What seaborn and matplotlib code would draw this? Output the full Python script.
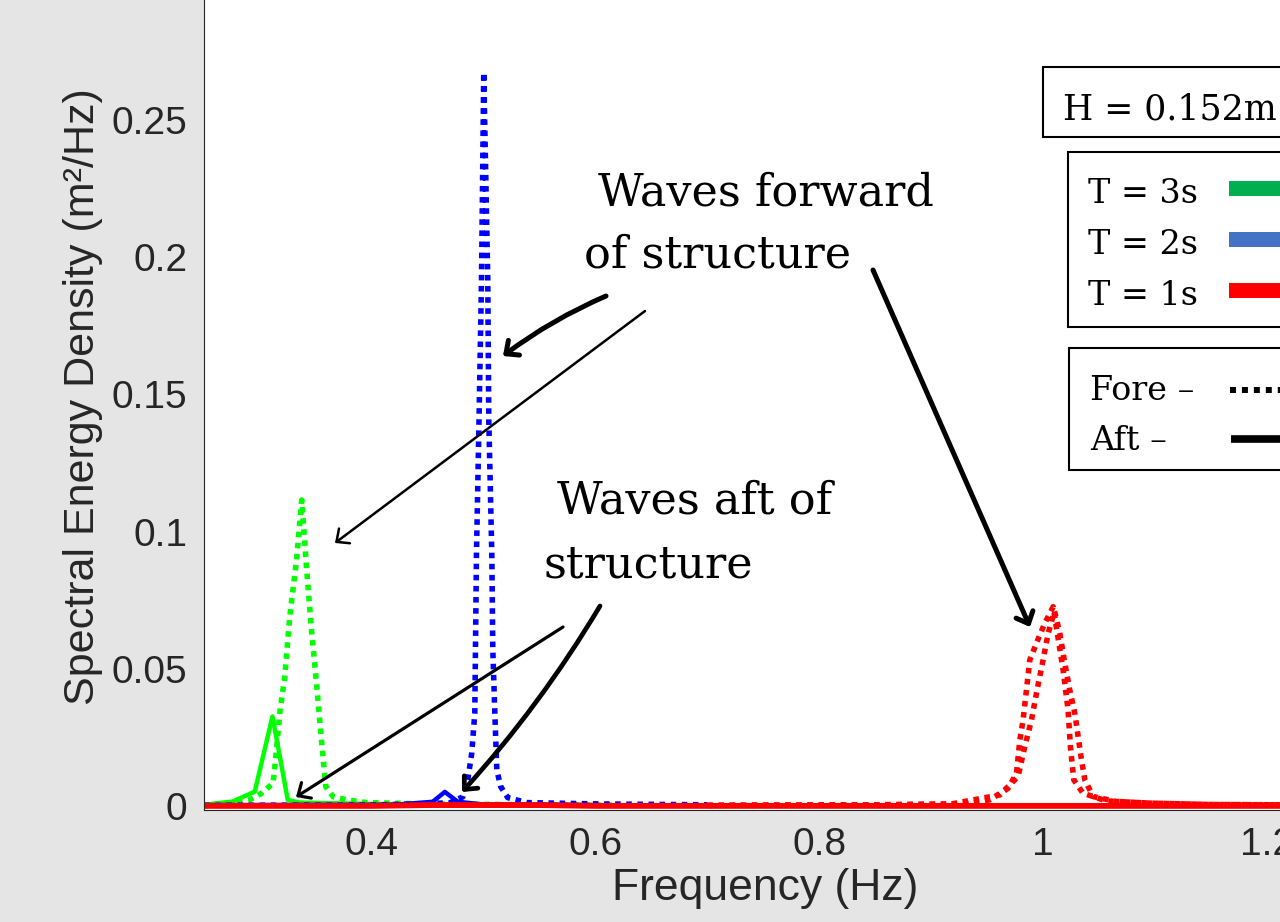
import matplotlib
matplotlib.use("Agg")
import matplotlib.pyplot as plt
from matplotlib.patches import Rectangle
from matplotlib.lines import Line2D
import seaborn as sns

# ---------------- data ----------------
green_fore_f = [0.25, 0.2757, 0.2909, 0.3014, 0.3118, 0.3148, 0.3177, 0.3222, 0.3267, 0.3327,
                0.3374, 0.3416, 0.3461, 0.3506, 0.3550, 0.3589, 0.3654, 0.3774, 0.3952, 0.45, 0.55, 0.62]
green_fore_v = [0.0003, 0.0010, 0.0022, 0.0046, 0.0083, 0.0204, 0.0338, 0.0471, 0.0690, 0.0896,
                0.1115, 0.0872, 0.0641, 0.0447, 0.0240, 0.0070, 0.0034, 0.0022, 0.0012, 0.0007, 0.0004, 0.0003]

green_aft_f = [0.25, 0.2757, 0.2954, 0.3112, 0.3249, 0.3356, 0.398, 0.50, 0.60]
green_aft_v = [0.0004, 0.0016, 0.0052, 0.0326, 0.0022, 0.0012, 0.0007, 0.0004, 0.0003]

blue_fore_f = [0.25, 0.40, 0.4697, 0.4814, 0.4858, 0.4894, 0.4921, 0.4936, 0.4959, 0.4981, 0.5001,
               0.5037, 0.5046, 0.5073, 0.5082, 0.5100, 0.5118, 0.5153, 0.5216, 0.5386, 0.6038, 0.70]
blue_fore_v = [0.0002, 0.0003, 0.0011, 0.0033, 0.0095, 0.0193, 0.0339, 0.0920, 0.1410, 0.1920, 0.2675,
               0.1920, 0.1410, 0.0920, 0.0570, 0.0340, 0.0130, 0.0070, 0.0030, 0.0012, 0.0007, 0.0004]

blue_aft_f = [0.25, 0.42, 0.4545, 0.4653, 0.4769, 0.50, 0.60]
blue_aft_v = [0.0003, 0.0004, 0.0015, 0.0051, 0.0015, 0.0005, 0.0003]

red_fore1_f = [0.70, 0.85, 0.9168, 0.9347, 0.9525, 0.9689, 0.9764, 0.9794, 0.9823, 0.9853, 0.9883, 0.9948,
               1.0017, 1.0092, 1.0136, 1.0181, 1.0225, 1.0246, 1.0276, 1.0359, 1.0569, 1.0956, 1.15, 1.26]
red_fore1_v = [0.0002, 0.0004, 0.0007, 0.0010, 0.0022, 0.0064, 0.0119, 0.0241, 0.0313, 0.0423, 0.0532, 0.0599,
               0.0666, 0.0726, 0.0611, 0.0496, 0.0350, 0.0216, 0.0095, 0.0046, 0.0018, 0.0010, 0.0005, 0.0003]

red_fore2_f = [0.70, 0.85, 0.9168, 0.9615, 0.9778, 0.9838, 0.9898, 0.9948, 0.9996, 1.0047, 1.0104, 1.0151,
               1.0196, 1.0240, 1.0285, 1.0315, 1.0345, 1.0375, 1.0449, 1.0658, 1.0956, 1.15, 1.26]
red_fore2_v = [0.0002, 0.0004, 0.0006, 0.0040, 0.0107, 0.0216, 0.0313, 0.0423, 0.0520, 0.0629, 0.0710, 0.0629,
               0.0520, 0.0423, 0.0338, 0.0253, 0.0168, 0.0095, 0.0034, 0.0016, 0.0010, 0.0005, 0.0003]

red_aft_f = [0.25, 0.40, 0.45, 0.55, 0.60, 1.00, 1.26]
red_aft_v = [0.0000, 0.0000, 0.0003, 0.0003, 0.0000, 0.0000, 0.0000]

x_ticks = [0.4, 0.6, 0.8, 1.0, 1.2]
x_tick_labels = ["0.4", "0.6", "0.8", "1", "1.2"]
y_ticks = [0, 0.05, 0.1, 0.15, 0.2, 0.25]
y_tick_labels = ["0", "0.05", "0.1", "0.15", "0.2", "0.25"]

legend_periods = ["T = 3s", "T = 2s", "T = 1s"]
legend_period_colors = ["#00b050", "#4472c4", "#ff0000"]
legend_styles = ["Fore \u2013", "Aft \u2013"]
height_label = "H = 0.152m"

# ---------------- style ----------------
sns.set_theme(style="white")
plt.rcParams["font.family"] = ["Liberation Sans", "DejaVu Sans"]

W, H = 1280, 922
BG = "#e5e5e5"
TXT = "#262626"
fig = plt.figure(figsize=(W / 100, H / 100), dpi=100, facecolor=BG)
ax = fig.add_axes([204 / W, (H - 810) / H, (1327 - 204) / W, (810 + 17) / H])
ax.set_facecolor("white")

dotted = (0, (1, 1))
LW_DOT = 4.0
LW_SOLID = 3.2

sns.lineplot(x=green_fore_f, y=green_fore_v, ax=ax, color="#00ff00", linestyle=dotted,
             linewidth=LW_DOT, dash_capstyle="butt", estimator=None)
sns.lineplot(x=green_aft_f, y=green_aft_v, ax=ax, color="#00ff00", linewidth=LW_SOLID, estimator=None)
sns.lineplot(x=blue_fore_f, y=blue_fore_v, ax=ax, color="#0000ff", linestyle=dotted,
             linewidth=LW_DOT, dash_capstyle="butt", estimator=None)
sns.lineplot(x=blue_aft_f, y=blue_aft_v, ax=ax, color="#0000ff", linewidth=LW_SOLID, estimator=None)
sns.lineplot(x=red_fore1_f, y=red_fore1_v, ax=ax, color="#ff0000", linestyle=dotted,
             linewidth=LW_DOT, dash_capstyle="butt", estimator=None)
sns.lineplot(x=red_fore2_f, y=red_fore2_v, ax=ax, color="#ff0000", linestyle=dotted,
             linewidth=LW_DOT, dash_capstyle="butt", estimator=None)
sns.lineplot(x=red_aft_f, y=red_aft_v, ax=ax, color="#ff0000", linewidth=4.2, estimator=None)

ax.set_xlim(0.25, 1.254)
ax.set_ylim(-0.0015, 0.30)
ax.set_xticks(x_ticks)
ax.set_xticklabels(x_tick_labels)
ax.set_yticks(y_ticks)
ax.set_yticklabels(y_tick_labels)
ax.tick_params(direction="in", length=10, width=0.7, colors=TXT, labelsize=28, pad=12)
for side in ["top", "right"]:
    ax.spines[side].set_visible(False)
for side in ["left", "bottom"]:
    ax.spines[side].set_color(TXT)
    ax.spines[side].set_linewidth(0.8)
ax.set_xlabel("Frequency (Hz)", fontsize=32, color=TXT, labelpad=4)
ax.set_ylabel("Spectral Energy Density (m\u00b2/Hz)", fontsize=31, color=TXT, labelpad=6)


def fp(x, y):
    """screen pixel (y down) -> figure fraction"""
    return x / W, 1 - y / H


SERIF = ["DejaVu Serif"]

# annotation texts
for s, (x, y) in [("Waves forward", (598, 205)), ("of structure", (584, 268)),
                  ("Waves aft of", (557, 513)), ("structure", (543, 577))]:
    fig.text(*fp(x, y), s, fontsize=32, family=SERIF, ha="left", va="baseline", color="black")

# hand-drawn style arrows (figure pixels, y up)
arrows = [((606, 296), (503, 356), 3.6, 0.06),
          ((645, 311), (335, 543), 1.8, 0.0),
          ((873, 270), (1030, 627), 3.6, 0.0),
          ((563, 627), (296, 797), 2.3, 0.0),
          ((600, 606), (462, 792), 3.4, -0.05)]
for (tx, ty), (hx, hy), lw, rad in arrows:
    ax.annotate("", xy=(hx, H - hy), xycoords="figure pixels",
                xytext=(tx, H - ty), textcoords="figure pixels",
                arrowprops=dict(arrowstyle="->,head_length=0.6,head_width=0.55", lw=lw,
                                color="black", connectionstyle=f"arc3,rad={rad}",
                                shrinkA=0, shrinkB=0, capstyle="round", joinstyle="round"))

# boxes on the right
for (x0, y0, y1) in [(1043, 67, 137), (1068, 152, 327), (1069, 348, 470)]:
    bx, by = fp(x0, y1)
    rect = Rectangle((bx, by), (1320 - x0) / W, (y1 - y0) / H, transform=fig.transFigure,
                     facecolor="white", edgecolor="black", linewidth=1.5, zorder=2)
    fig.add_artist(rect)

fig.text(*fp(1063, 120), height_label, fontsize=25, family=SERIF, ha="left", va="baseline",
         color="black", zorder=3)

for i, (lab, col) in enumerate(zip(legend_periods, legend_period_colors)):
    base = 203 + i * 51
    fig.text(*fp(1088, base), lab, fontsize=24, family=SERIF, ha="left", va="baseline",
             color="black", zorder=3)
    bx, by = fp(1229, base - 7)
    fig.add_artist(Rectangle((bx, by), 80 / W, 15 / H, transform=fig.transFigure,
                             facecolor=col, edgecolor="none", zorder=3))

for i, lab in enumerate(legend_styles):
    base = 400 + i * 50
    fig.text(*fp(1090, base), lab, fontsize=24, family=SERIF, ha="left", va="baseline",
             color="black", zorder=3)

x0, y0 = fp(1230, 390)
x1, _ = fp(1300, 390)
fig.add_artist(Line2D([x0, x1], [y0, y0], transform=fig.transFigure, color="black",
                      linewidth=4.3, linestyle=(0, (1, 1)), dash_capstyle="butt", zorder=3))
x0, y0 = fp(1231, 439)
fig.add_artist(Line2D([x0, x1], [y0, y0], transform=fig.transFigure, color="black",
                      linewidth=5.5, solid_capstyle="butt", zorder=3))

fig.savefig("out.png", dpi=100, facecolor=BG)
